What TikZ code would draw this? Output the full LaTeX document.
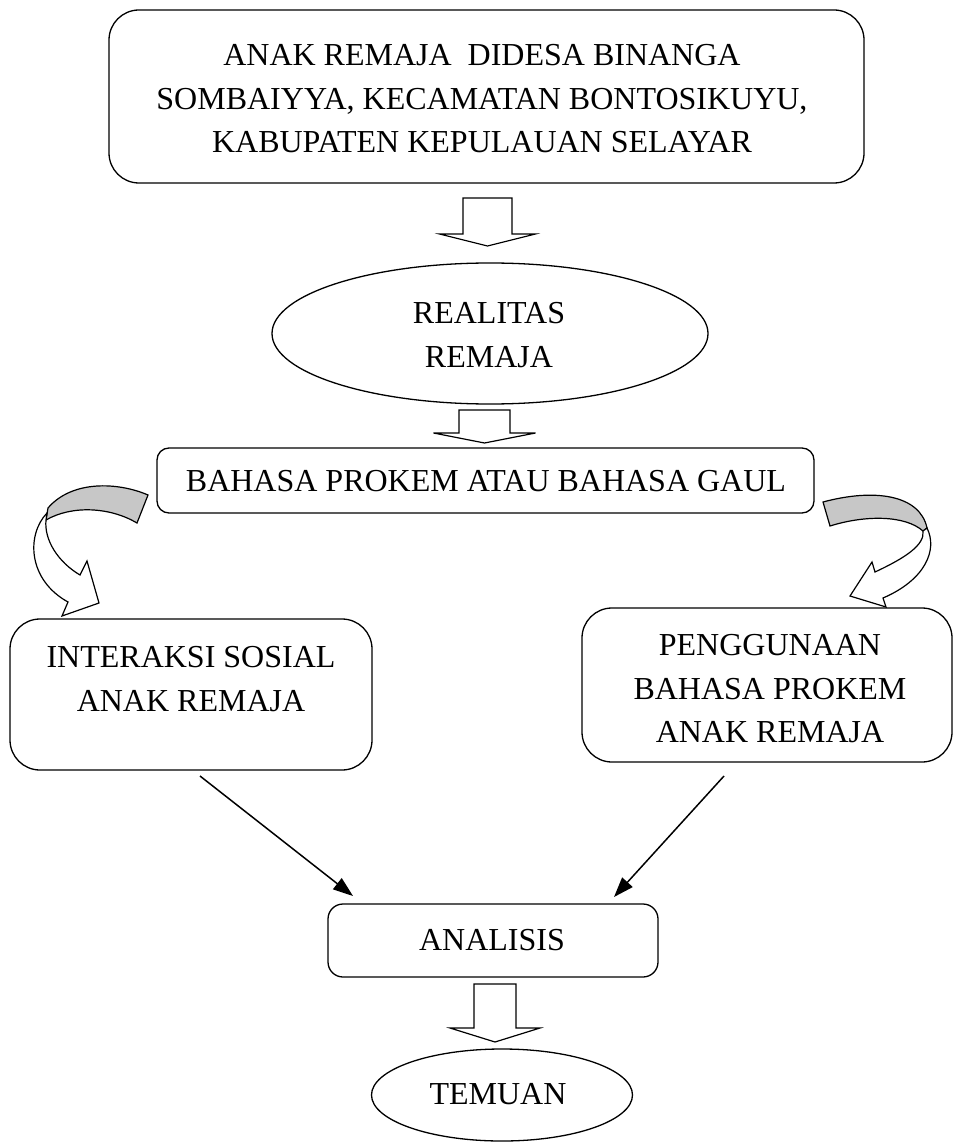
\documentclass[tikz,border=0pt]{standalone}
\usepackage{fontspec}
\setmainfont{Liberation Serif}
\usetikzlibrary{arrows.meta,shapes.geometric}
\newcommand{\blkarrow}[6]{% cx, top, shoulder, tip, half stem, half head
  \draw[blk] (#1-#5,#2) -- (#1+#5,#2) -- (#1+#5,#3) -- (#1+#6,#3) -- (#1,#4)
    -- (#1-#6,#3) -- (#1-#5,#3) -- cycle;}
\begin{document}
\begin{tikzpicture}[x=1pt,y=-1pt,
  box/.style={draw, line width=1.3pt, inner sep=0pt},
  oval/.style={draw, ellipse, line width=1.3pt, inner sep=0pt},
  txt/.style={align=center, inner sep=0pt, font=\fontsize{32}{43.5}\selectfont},
  blk/.style={draw, fill=white, line width=1.2pt, line join=miter},
  band/.style={draw, fill=black!22, line width=1.2pt},
  curv/.style={draw, fill=white, line width=1.2pt},
  conn/.style={line width=1.5pt, -{Triangle[length=20pt,width=14pt]}}]
\useasboundingbox (0,0) rectangle (958,1147);
\fill[white] (0,0) rectangle (958,1147);

% top box
\node[box, rounded corners=30pt, minimum width=755pt, minimum height=173pt] (top) at (486.5,96.5) {};
\node[txt] (topt) at (482,99) {ANAK REMAJA \ DIDESA BINANGA\\SOMBAIYYA, KECAMATAN BONTOSIKUYU,\\KABUPATEN KEPULAUAN SELAYAR};

% realitas
\node[oval, minimum width=436pt, minimum height=141pt] (real) at (490,333.5) {};
\node[txt] (realt) at (489,335) {REALITAS\\REMAJA};

% bahasa
\node[box, rounded corners=12pt, minimum width=657pt, minimum height=65pt] (bahasa) at (485.5,480.5) {};
\node[txt] (bahasat) at (486,481) {BAHASA PROKEM ATAU BAHASA GAUL};

% interaksi
\node[box, rounded corners=30pt, minimum width=362pt, minimum height=151pt] (inter) at (191,694.5) {};
\node[txt] (intert) at (191,679) {INTERAKSI SOSIAL\\ANAK REMAJA};

% penggunaan
\node[box, rounded corners=30pt, minimum width=370pt, minimum height=154pt] (peng) at (767,685) {};
\node[txt] (pengt) at (770,689) {PENGGUNAAN\\BAHASA PROKEM\\ANAK REMAJA};

% analisis
\node[box, rounded corners=15pt, minimum width=330pt, minimum height=73pt] (anal) at (493,940.5) {};
\node[txt] (analt) at (492,940) {ANALISIS};

% temuan
\node[oval, minimum width=261pt, minimum height=92pt] (tem) at (502,1095) {};
\node[txt] (temt) at (498,1094) {TEMUAN};

% block arrows
\blkarrow{487.5}{198}{234}{246}{24.5}{48}
\blkarrow{484.5}{410}{433}{443}{25.5}{51}
\blkarrow{495}{984}{1028}{1042}{21}{45}

% left curved arrow
\draw[band] (148,495) .. controls (118,482) and (72,480) .. (48,508)
  -- (46,520) .. controls (72,505) and (110,507) .. (137,523) -- cycle;
\draw[curv] (47,513) .. controls (26,535) and (28,580) .. (68,602)
  -- (62,616) -- (99,603) -- (87,561) -- (80,575)
  .. controls (58,562) and (44,540) .. (46,520) -- cycle;

% right curved arrow
\draw[band] (823,502) .. controls (875,488) and (920,495) .. (927,528)
  -- (923,531) .. controls (905,515) and (865,515) .. (830,526) -- cycle;
\draw[curv] (927,528) .. controls (938,550) and (925,580) .. (883,598)
  -- (886,607) -- (850,596) -- (872,562) -- (875,572)
  .. controls (905,558) and (925,545) .. (923,531) -- cycle;

% line connectors
\coordinate (l1) at (200,776);
\coordinate (l2) at (353,896);
\coordinate (r1) at (724,776);
\coordinate (r2) at (614,897);
\draw[conn] (l1) -- (l2);
\draw[conn] (r1) -- (r2);
\end{tikzpicture}
\end{document}
